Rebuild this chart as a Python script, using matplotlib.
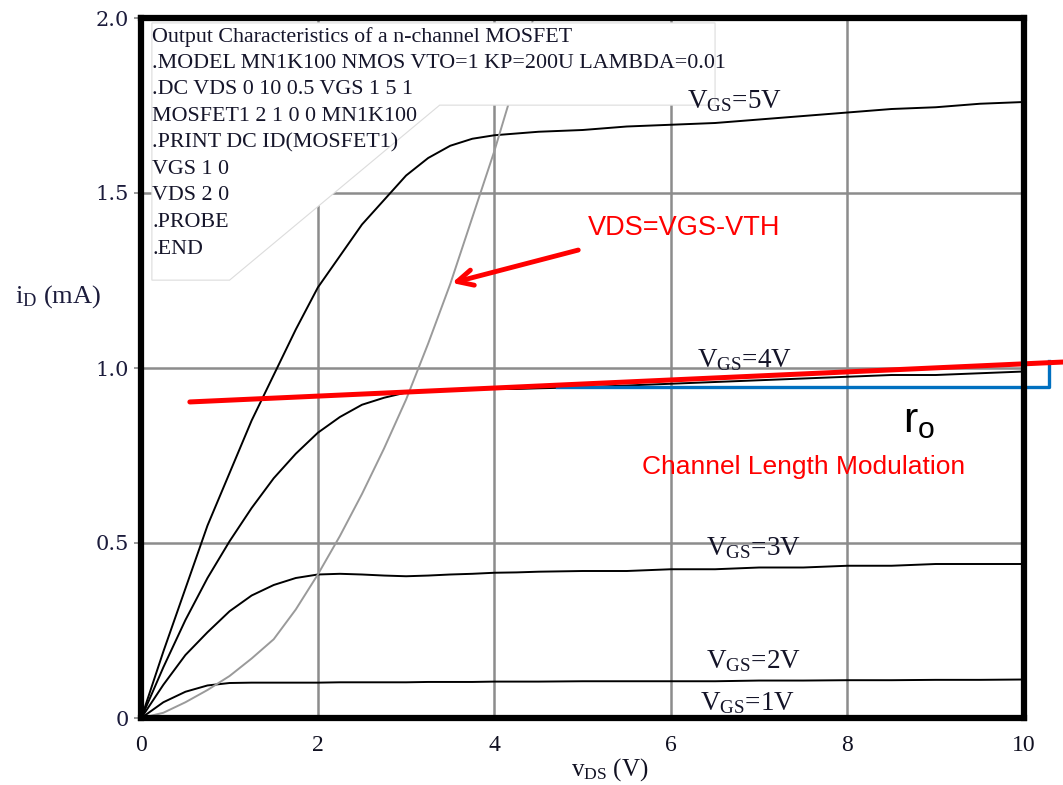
import matplotlib
matplotlib.use("Agg")
import matplotlib.pyplot as plt
from matplotlib.patches import Polygon

plt.rcParams['mathtext.fontset'] = 'custom'
plt.rcParams['mathtext.rm'] = 'Liberation Serif'
plt.rcParams['mathtext.it'] = 'Liberation Serif:italic'
plt.rcParams['mathtext.sf'] = 'Liberation Sans'

# ---------------- data ----------------
vds = [0.0, 0.25, 0.5, 0.75, 1.0, 1.25, 1.5, 1.75, 2.0, 2.25, 2.5, 2.75, 3.0,
       3.25, 3.5, 3.75, 4.0, 4.25, 4.5, 5.0, 5.5, 6.0, 6.5, 7.0, 7.5, 8.0,
       8.5, 9.0, 9.5, 10.0]
id_vgs5 = [0.0, 0.19, 0.37, 0.55, 0.70, 0.85, 0.98, 1.11, 1.23, 1.32, 1.41,
           1.48, 1.55, 1.60, 1.635, 1.655, 1.665, 1.67, 1.675, 1.68, 1.69,
           1.695, 1.70, 1.71, 1.72, 1.73, 1.74, 1.745, 1.755, 1.76]
id_vgs4 = [0.0, 0.145, 0.28, 0.40, 0.505, 0.60, 0.685, 0.755, 0.815, 0.86,
           0.895, 0.915, 0.93, 0.935, 0.937, 0.939, 0.94, 0.94, 0.942, 0.945,
           0.95, 0.955, 0.96, 0.965, 0.97, 0.975, 0.98, 0.98, 0.985, 0.99]
id_vgs3 = [0.0, 0.095, 0.18, 0.245, 0.305, 0.35, 0.38, 0.40, 0.41, 0.412,
           0.41, 0.407, 0.405, 0.407, 0.41, 0.412, 0.415, 0.416, 0.418, 0.42,
           0.42, 0.425, 0.425, 0.43, 0.43, 0.435, 0.435, 0.44, 0.44, 0.44]
id_vgs2 = [0.0, 0.045, 0.075, 0.093, 0.10, 0.101, 0.101, 0.101, 0.101, 0.102,
           0.102, 0.102, 0.102, 0.103, 0.103, 0.103, 0.104, 0.104, 0.104,
           0.105, 0.105, 0.105, 0.105, 0.107, 0.107, 0.108, 0.108, 0.109,
           0.109, 0.11]
id_vgs1 = [0.0] * len(vds)

locus_vds = [0.0, 0.25, 0.5, 0.75, 1.0, 1.25, 1.5, 1.75, 2.0, 2.25, 2.5, 2.75,
             3.0, 3.25, 3.5, 3.75, 4.0, 4.25, 4.5]
locus_id = [0.0, 0.015, 0.045, 0.08, 0.12, 0.17, 0.225, 0.31, 0.41, 0.52,
            0.64, 0.77, 0.91, 1.07, 1.24, 1.43, 1.62, 1.83, 2.05]

clm_line_v = [0.55, 10.44]
clm_line_i = [0.903, 1.017]
ro_bracket_v = [4.71, 10.28, 10.28]
ro_bracket_i = [0.946, 0.946, 1.02]
arrow_tip = (3.52, 1.243)
arrow_tail = (4.95, 1.337)

box_v = [0.12, 6.50, 6.50, 3.38, 1.00, 0.12]
box_i = [1.986, 1.986, 1.751, 1.751, 1.251, 1.251]

x_ticks = [0, 2, 4, 6, 8, 10]
x_ticklabels = ['0', '2', '4', '6', '8', '10']
y_ticks = [0, 0.5, 1.0, 1.5, 2.0]
y_ticklabels = ['0', '0.5', '1.0', '1.5', '2.0']

netlist = ["Output Characteristics of a n-channel MOSFET",
           ".MODEL MN1K100 NMOS VTO=1 KP=200U LAMBDA=0.01",
           ".DC VDS 0 10 0.5 VGS 1 5 1",
           "MOSFET1 2 1 0 0 MN1K100",
           ".PRINT DC ID(MOSFET1)",
           "VGS 1 0",
           "VDS 2 0",
           ".PROBE",
           ".END"]

curve_labels = ['5V', '4V', '3V', '2V', '1V']

# ---------------- figure ----------------
W, H = 1063, 785
fig = plt.figure(figsize=(W / 100, H / 100), dpi=100)
ax_l, ax_r, ax_t, ax_b = 141.3, 1024, 18, 718
ax = fig.add_axes([ax_l / W, 1 - ax_b / H, (ax_r - ax_l) / W, (ax_b - ax_t) / H])

def fx(px):
    return (px - ax_l) / (ax_r - ax_l)

def fy(py):
    return (ax_b - py) / (ax_b - ax_t)

ax.set_xlim(0, 10)
ax.set_ylim(0, 2.0)
ax.set_xticks(x_ticks)
ax.set_xticklabels(x_ticklabels, family='Liberation Serif', fontsize=17, color='#111122')
ax.set_yticks(y_ticks)
ax.set_yticklabels(y_ticklabels, family='DejaVu Serif', fontsize=15, color='#1c1c3c')
ax.tick_params(axis='x', length=0, pad=12)
ax.tick_params(axis='y', length=5, width=1.2, color='#888888', pad=4)
ax.grid(True, color='#8c8c8c', linewidth=1.8, zorder=0)
ax.set_axisbelow(True)
for s in ax.spines.values():
    s.set_linewidth(4.5)
    s.set_color('black')
    s.set_zorder(10)

# curves
for ids in [id_vgs5, id_vgs4, id_vgs3, id_vgs2, id_vgs1]:
    ax.plot(vds, ids, color='black', linewidth=1.4, zorder=2,
            solid_joinstyle='round')
ax.plot(locus_vds, locus_id, color='#9a9a9a', linewidth=1.4, zorder=2,
        solid_joinstyle='round')

# netlist box
box = Polygon(list(zip(box_v, box_i)), closed=True, facecolor='white',
              edgecolor='#dcdcdc', linewidth=0.8, zorder=3)
ax.add_patch(box)
for k, line in enumerate(netlist):
    ax.text(fx(152), fy(37 + 26.5 * k), line, transform=ax.transAxes,
            family='Liberation Serif', fontsize=15.8, color='#15152a',
            ha='left', va='center', zorder=4)

# curve labels
label_pos = [(687, 108), (697, 367), (706, 555), (706, 668), (700, 710)]
for lab, (px, py) in zip(curve_labels, label_pos):
    ax.text(fx(px), fy(py), r'$\mathrm{V_{GS}}$=' + lab, transform=ax.transAxes,
            family='Liberation Serif', fontsize=19.5, color='#141428',
            ha='left', va='baseline', zorder=5)

# axis labels
ax.set_ylabel(r'i$_\mathrm{D}$ (mA)', family='Liberation Serif', fontsize=19,
              color='#1c1c3c', rotation=0, ha='center', va='center')
ax.yaxis.set_label_coords(fx(58), fy(297))
ax.set_xlabel(r'v$_\mathrm{DS}$ (V)', family='Liberation Serif', fontsize=18,
              color='#111122', ha='center', va='center')
ax.xaxis.set_label_coords(fx(610), fy(770))

# annotations
ax.plot(clm_line_v, clm_line_i, color='#ff0000', linewidth=3.6,
        solid_capstyle='round', clip_on=False, zorder=6)
ax.plot(ro_bracket_v, ro_bracket_i, color='#0070c0', linewidth=2.4,
        clip_on=False, zorder=5)
ax.annotate('', xy=arrow_tip, xytext=arrow_tail,
            arrowprops=dict(arrowstyle='->', color='#ff0000', lw=3.5,
                            mutation_scale=28, shrinkA=0, shrinkB=0),
            zorder=6)
ax.text(fx(588), fy(228), 'VDS=VGS-VTH', transform=ax.transAxes,
        family='Liberation Sans', fontsize=19.5, color='#ff0000',
        ha='left', va='center', zorder=6)
ax.text(fx(642), fy(467), 'Channel Length Modulation', transform=ax.transAxes,
        family='Liberation Sans', fontsize=19, color='#ff0000',
        ha='left', va='center', zorder=6)
ax.text(fx(903), fy(432), r'$\mathsf{r_o}$', transform=ax.transAxes,
        fontsize=31, color='black', ha='left', va='baseline', zorder=6)

fig.savefig('out.png', dpi=100)
